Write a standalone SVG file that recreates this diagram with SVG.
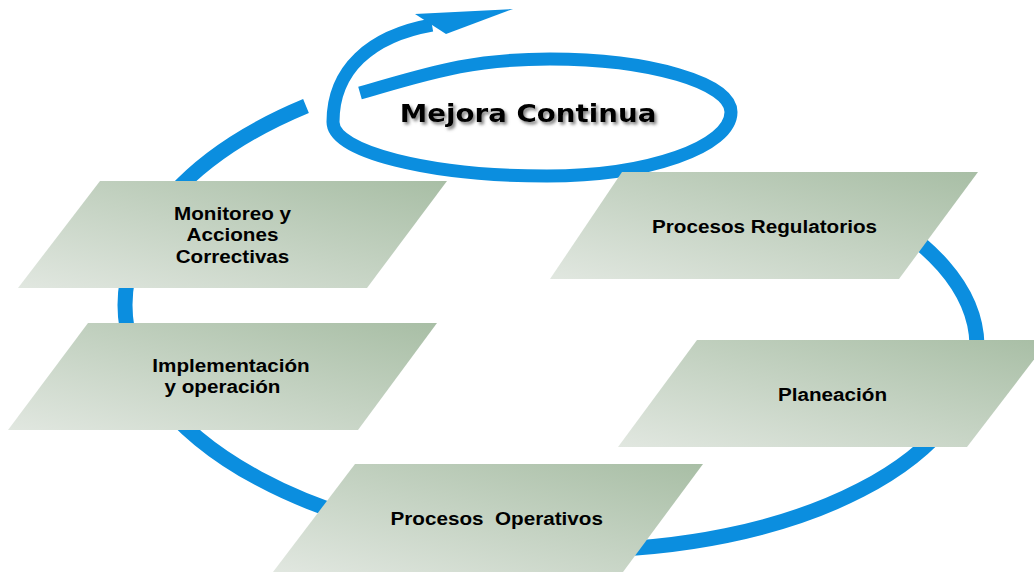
<svg xmlns="http://www.w3.org/2000/svg" width="1034" height="572" viewBox="0 0 1034 572">
<defs>
<linearGradient id="g" x1="0" y1="1" x2="1" y2="0">
<stop offset="0" stop-color="#E1E7E0"/>
<stop offset="1" stop-color="#A8BEA5"/>
</linearGradient>
<filter id="sh" x="-10%" y="-50%" width="120%" height="200%">
<feDropShadow dx="2" dy="2.5" stdDeviation="1.5" flood-color="#666" flood-opacity="0.8"/>
</filter>
</defs>
<style>
.loop{fill:none;stroke:#0B8EDF;stroke-linecap:butt}
.box{fill:url(#g)}
.lbl{font-family:"Liberation Sans",Arial,sans-serif;font-weight:bold;font-size:18.5px;fill:#000;text-anchor:middle}
.ttl{font-family:"DejaVu Sans",Verdana,sans-serif;font-weight:bold;font-size:24.8px;text-anchor:middle;fill:#000}
</style>
<g id="connectors">
<path class="loop" stroke-width="15" d="M306,106 A455 250 0 0 0 125,305 A455 245 0 0 0 580,550 A397 205 0 0 0 977,345 A397 200 0 0 0 850,200"/>
<path class="loop" stroke-width="13" d="M360,93 C430,73 470,59 550,59 C650,59 731,83 731,112 C731,147 648,176 547,176 C430,176 333,152 333,122 C333,70 370,36 432,25"/>
<polygon points="415,14 513,9 446,34" fill="#0B8EDF"/>
</g>
<g id="title">
<g transform="translate(528,121.7) scale(1.117,1)" filter="url(#sh)"><text class="ttl" x="0" y="0">Mejora Continua</text></g>
</g>
<g id="monitoreo">
<polygon class="box" points="100,181 447,181 367,288 18,288"/>
<g transform="translate(232.5,0) scale(1.117,1)"><text class="lbl" x="0" y="220">Monitoreo y</text><text class="lbl" x="0" y="241.5">Acciones</text><text class="lbl" x="0" y="262.7">Correctivas</text></g>
</g>
<g id="implementacion">
<polygon class="box" points="88,323 437,323 358,430 8,430"/>
<g transform="translate(231,0) scale(1.117,1)"><text class="lbl" x="0" y="372">Implementación</text></g>
<g transform="translate(222.5,0) scale(1.117,1)"><text class="lbl" x="0" y="393">y operación</text></g>
</g>
<g id="regulatorios">
<polygon class="box" points="622,172 978,172 899,279 550,279"/>
<g transform="translate(764.5,0) scale(1.117,1)"><text class="lbl" x="0" y="232.7">Procesos Regulatorios</text></g>
</g>
<g id="planeacion">
<polygon class="box" points="697,340 1049,340 967,447 618,447"/>
<g transform="translate(832.5,0) scale(1.117,1)"><text class="lbl" x="0" y="400.7">Planeación</text></g>
</g>
<g id="operativos">
<polygon class="box" points="355,464 703,464 623,572 273,572"/>
<g transform="translate(496.7,0) scale(1.117,1)"><text class="lbl" x="0" y="525" xml:space="preserve" style="white-space:pre">Procesos  Operativos</text></g>
</g>
</svg>
